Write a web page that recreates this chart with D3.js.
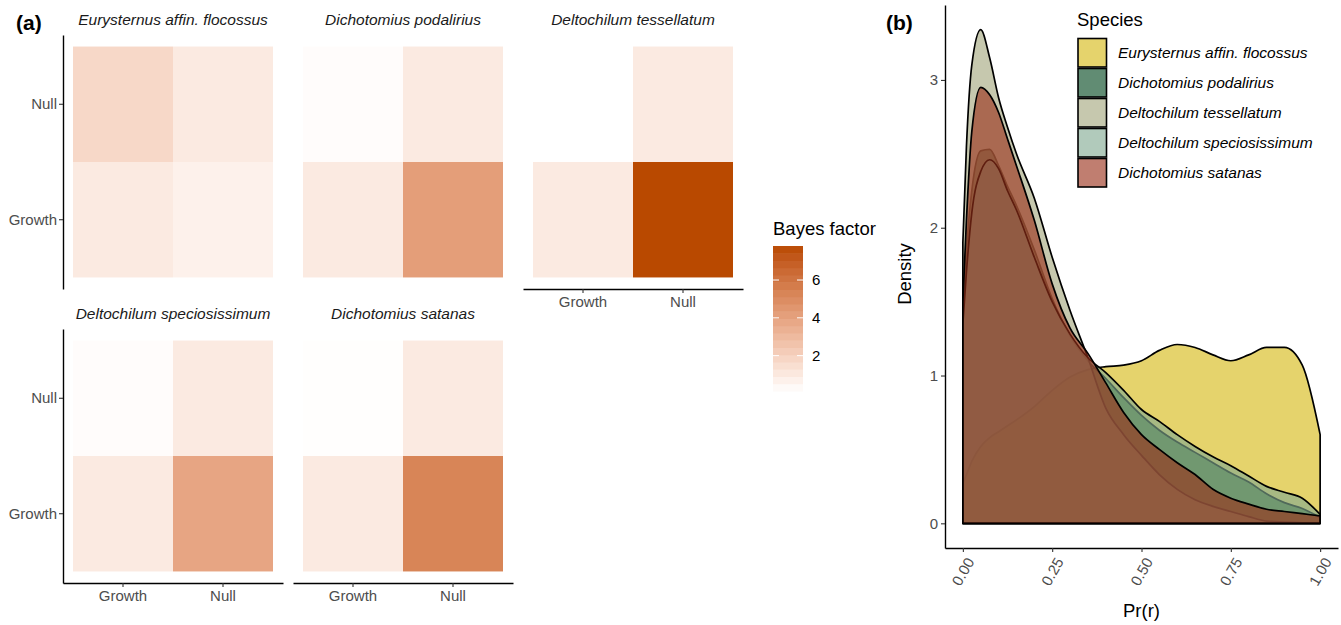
<!DOCTYPE html>
<head>
  <meta charset="utf-8">
  <script src="https://d3js.org/d3.v7.min.js"></script>
  <style>
    body { margin:0; background:#fff; }
    text { font-family: "Liberation Sans", Arial, sans-serif; }
  </style>
</head>
<body>
<svg width="1341" height="625"></svg>
<script>

// ---- data ----
const species = ["Eurysternus affin. flocossus", "Dichotomius podalirius", "Deltochilum tessellatum",
                 "Deltochilum speciosissimum", "Dichotomius satanas"]
const models = ["Growth", "Null"]

// Bayes factor, one value per species for each (x, y) cell
const bfGrowthNull   = [1.74, 0.24, 0.13, 0.26, 0.19]
const bfNullNull     = [1, 1, 1, 1, 1]
const bfGrowthGrowth = [1, 1, 1, 1, 1]
const bfNullGrowth   = [0.72, 4.2, 7.8, 3.9, 5.3]
const bfTicks = [2, 4, 6]

// density of Pr(r)
const prGrid = [0, 0.01, 0.025, 0.05, 0.075, 0.1, 0.125, 0.15, 0.2, 0.25, 0.3, 0.35, 0.4,
                0.45, 0.5, 0.55, 0.6, 0.65, 0.7, 0.75, 0.8, 0.85, 0.9, 0.95, 1.0]
const dEury = [0.27, 0.33, 0.42, 0.52, 0.58, 0.62, 0.66, 0.70, 0.79, 0.90, 0.99, 1.04, 1.06,
               1.07, 1.10, 1.17, 1.21, 1.19, 1.14, 1.10, 1.14, 1.19, 1.19, 1.07, 0.60]
const dPod  = [1.45, 1.85, 2.25, 2.52, 2.53, 2.42, 2.28, 2.15, 1.85, 1.52, 1.27, 1.10, 0.98,
               0.85, 0.73, 0.63, 0.55, 0.48, 0.41, 0.34, 0.28, 0.20, 0.14, 0.10, 0.04]
const dTess = [1.90, 2.55, 3.10, 3.34, 3.15, 2.88, 2.68, 2.50, 2.20, 1.80, 1.44, 1.12, 0.78,
               0.60, 0.46, 0.33, 0.23, 0.16, 0.115, 0.08, 0.045, 0.015, 0.008, 0.004, 0.002]
const dSpec = [1.35, 1.70, 2.10, 2.38, 2.46, 2.40, 2.25, 2.12, 1.80, 1.50, 1.28, 1.12, 1.02,
               0.90, 0.77, 0.69, 0.60, 0.52, 0.45, 0.39, 0.32, 0.25, 0.21, 0.17, 0.06]
const dSat  = [1.50, 2.05, 2.65, 2.95, 2.90, 2.78, 2.60, 2.42, 2.05, 1.62, 1.32, 1.15, 0.95,
               0.75, 0.60, 0.50, 0.41, 0.33, 0.23, 0.17, 0.13, 0.095, 0.08, 0.065, 0.05]
const densTicks = [0, 1, 2, 3]
const prTicks = [0, 0.25, 0.5, 0.75, 1]

const speciesFill = ["#d5b812", "#00451d", "#a3a67c", "#81a991", "#992f18"]

const svg = d3.select("svg")
const tickGrey = "#4d4d4d"

// ---- (a) heatmaps ----
const cells = []
species.forEach((sp, i) => {
  cells.push({sp: i, x: "Growth", y: "Null",   v: bfGrowthNull[i]})
  cells.push({sp: i, x: "Null",   y: "Null",   v: bfNullNull[i]})
  cells.push({sp: i, x: "Growth", y: "Growth", v: bfGrowthGrowth[i]})
  cells.push({sp: i, x: "Null",   y: "Growth", v: bfNullGrowth[i]})
})
const bfExtent = d3.extent(cells, d => d.v)
const fill = d3.scaleLinear().domain(bfExtent).range(["#ffffff", "#b94900"])
  .interpolate(d3.interpolateLab)

const pw = 220, ph = 254
const x = d3.scaleBand().domain(models).range([0, pw]).paddingOuter(0.1)
const y = d3.scaleBand().domain(["Null", "Growth"]).range([0, ph]).paddingOuter(0.1)

species.forEach((sp, i) => {
  const col = i % 3, row = Math.floor(i / 3)
  const px = 63 + col * 230, py = row ? 329 : 35
  const g = svg.append("g").attr("transform", `translate(${px},${py})`)

  g.selectAll("rect")
    .data(cells.filter(d => d.sp === i))
    .enter().append("rect")
      .attr("x", d => x(d.x))
      .attr("y", d => y(d.y))
      .attr("width", x.bandwidth())
      .attr("height", y.bandwidth())
      .attr("fill", d => fill(d.v))

  g.append("text")
    .attr("x", pw / 2).attr("y", -10)
    .attr("text-anchor", "middle")
    .style("font-size", "15.5px").style("font-style", "italic").attr("fill", "#1a1a1a")
    .text(sp)

  if (col === 0) {
    const ay = g.append("g").call(d3.axisLeft(y).tickSize(4).tickSizeOuter(0).tickPadding(2))
    styleAxis(ay)
  }
  const lastInCol = (i + 3 >= species.length)
  if (lastInCol) {
    const ax = g.append("g").attr("transform", `translate(0,${ph})`)
      .call(d3.axisBottom(x).tickSize(4).tickSizeOuter(0).tickPadding(3))
    styleAxis(ax)
  }
})

function styleAxis(a) {
  a.select(".domain").attr("stroke", "#000").attr("stroke-width", 1.4)
  a.selectAll(".tick line").attr("stroke", "#333").attr("stroke-width", 1.1)
  a.selectAll(".tick text").attr("fill", tickGrey).style("font-size", "15px")
    .style("font-family", "'Liberation Sans', Arial, sans-serif")
}

svg.append("text").attr("x", 16).attr("y", 30)
  .style("font-size", "21px").style("font-weight", "bold").text("(a)")

// colour bar
const barX = 773, barW = 30
const barY = d3.scaleLinear().domain(bfExtent).range([391, 246])
svg.append("text").attr("x", barX).attr("y", 235)
  .style("font-size", "18.5px").text("Bayes factor")
const nbin = 20
const bins = d3.range(nbin).map(k => bfExtent[0] + (bfExtent[1] - bfExtent[0]) * k / nbin)
const binH = (barY(bfExtent[0]) - barY(bfExtent[1])) / nbin
svg.append("g").selectAll("rect")
  .data(bins)
  .enter().append("rect")
    .attr("x", barX)
    .attr("y", d => barY(d) - binH)
    .attr("width", barW)
    .attr("height", binH + 0.5)
    .attr("fill", d => fill(d + (bfExtent[1] - bfExtent[0]) / nbin / 2))
const bt = svg.append("g").selectAll("g").data(bfTicks).enter().append("g")
bt.append("line").attr("x1", barX).attr("x2", barX + 6)
  .attr("y1", d => barY(d)).attr("y2", d => barY(d)).attr("stroke", "#fff").attr("stroke-width", 1)
bt.append("line").attr("x1", barX + barW - 6).attr("x2", barX + barW)
  .attr("y1", d => barY(d)).attr("y2", d => barY(d)).attr("stroke", "#fff").attr("stroke-width", 1)
bt.append("text").attr("x", barX + barW + 9).attr("y", d => barY(d)).attr("dy", "0.35em")
  .style("font-size", "15px").text(d => d)

// ---- (b) density ----
const densities = [dEury, dPod, dTess, dSpec, dSat]
const dMax = d3.max(densities.flat())
const xs = d3.scaleLinear().domain([-0.05, 1.05]).range([945, 1338])
const ys = d3.scaleLinear().domain([-dMax * 0.05, dMax * 1.05]).range([548, 5])

const area = d3.area()
  .x((d, k) => xs(prGrid[k]))
  .y0(ys(0))
  .y1(d => ys(d))
  .curve(d3.curveMonotoneX)

svg.append("g").selectAll("path")
  .data(densities)
  .enter().append("path")
    .attr("d", d => area(d))
    .attr("fill", (d, i) => speciesFill[i])
    .attr("fill-opacity", 0.62)
    .attr("stroke", "#000")
    .attr("stroke-width", 1.7)
    .attr("stroke-linejoin", "round")

const yAx = svg.append("g").attr("transform", "translate(945,0)")
  .call(d3.axisLeft(ys).tickValues(densTicks).tickFormat(d3.format("d")).tickSize(4).tickSizeOuter(0).tickPadding(3))
styleAxis(yAx)
const xAx = svg.append("g").attr("transform", "translate(0,548)")
  .call(d3.axisBottom(xs).tickValues(prTicks).tickFormat(d3.format(".2f")).tickSize(4).tickSizeOuter(0))
styleAxis(xAx)
xAx.selectAll(".tick text")
  .attr("text-anchor", "end")
  .attr("dy", "0.35em")
  .attr("transform", "translate(7,11) rotate(-60)")
  .attr("y", 0).attr("x", 0)

svg.append("text").attr("x", 886).attr("y", 30)
  .style("font-size", "21px").style("font-weight", "bold").text("(b)")
svg.append("text").attr("transform", "translate(911,274) rotate(-90)")
  .attr("text-anchor", "middle").style("font-size", "18.5px").text("Density")
svg.append("text").attr("x", xs(0.5)).attr("y", 617)
  .attr("text-anchor", "middle").style("font-size", "18.5px").text("Pr(r)")

// legend
const leg = svg.append("g").attr("transform", "translate(1077,0)")
leg.append("text").attr("x", 0).attr("y", 26).style("font-size", "18.5px").text("Species")
const li = leg.selectAll("g.item").data(species).enter().append("g")
  .attr("transform", (d, i) => `translate(1,${38.5 + i * 30})`)
li.append("rect").attr("width", 28.5).attr("height", 28.5)
  .attr("fill", (d, i) => speciesFill[i]).attr("fill-opacity", 0.62)
  .attr("stroke", "#000").attr("stroke-width", 1.6)
li.append("text").attr("x", 40).attr("y", 14.25).attr("dy", "0.35em")
  .style("font-size", "15.5px").style("font-style", "italic").text(d => d)

</script>
</body>
